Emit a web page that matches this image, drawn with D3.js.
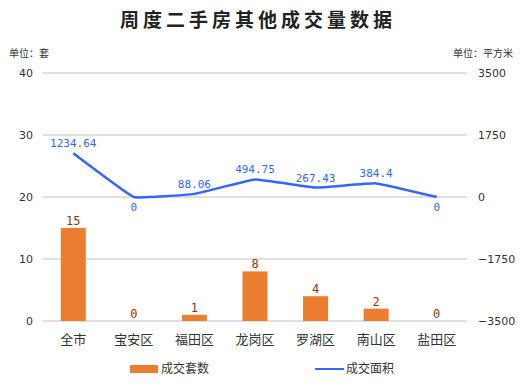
<!DOCTYPE html>
<html>
<head>
<meta charset="utf-8">
<script src="https://cdn.jsdelivr.net/npm/d3@7"></script>
<style>
  body { margin: 0; background: #fff; }
  svg { display: block; font-family: "Noto Sans CJK SC", "DejaVu Sans", sans-serif; }
</style>
</head>
<body>
<svg id="chart" width="522" height="384"></svg>
<script>
// data
var categories = ['全市', '宝安区', '福田区', '龙岗区', '罗湖区', '南山区', '盐田区'];
var dealCount = [15, 0, 1, 8, 4, 2, 0];
var dealArea = [1234.64, 0, 88.06, 494.75, 267.43, 384.4, 0];
var leftTicks = [0, 10, 20, 30, 40];
var rightTicks = [-3500, -1750, 0, 1750, 3500];

var svg = d3.select('#chart'),
    margin = {top: 73, right: 55, bottom: 63, left: 43},
    width = +svg.attr('width') - margin.left - margin.right,
    height = +svg.attr('height') - margin.top - margin.bottom,
    g = svg.append('g').attr('transform', 'translate(' + margin.left + ',' + margin.top + ')');

var x = d3.scaleBand().domain(categories).range([0, width]);
var y = d3.scaleLinear().domain([0, 40]).range([height, 0]);
var y2 = d3.scaleLinear().domain([-3500, 3500]).range([height, 0]);

// title
svg.append('text')
  .attr('x', 258).attr('y', 27)
  .attr('text-anchor', 'middle')
  .attr('font-size', 19).attr('font-weight', 'bold')
  .attr('letter-spacing', 4)
  .attr('fill', '#222')
  .text('周度二手房其他成交量数据');

svg.append('text').attr('x', 9).attr('y', 57)
  .attr('font-size', 10).attr('fill', '#333').text('单位：套');
svg.append('text').attr('x', 513).attr('y', 57).attr('text-anchor', 'end')
  .attr('font-size', 10).attr('fill', '#333').text('单位：平方米');

// grid
g.selectAll('line.grid')
  .data(leftTicks)
  .enter().append('line')
    .attr('class', 'grid')
    .attr('x1', 0).attr('x2', width)
    .attr('y1', function(d) { return y(d); })
    .attr('y2', function(d) { return y(d); })
    .attr('stroke', '#c0c0c0').attr('stroke-width', 1);

// left axis
var leftAxis = g.append('g')
  .call(d3.axisLeft(y).tickValues(leftTicks).tickSize(0).tickPadding(10));
leftAxis.select('.domain').remove();
leftAxis.selectAll('text').attr('font-size', 11).attr('fill', '#333')
  .attr('font-family', 'DejaVu Sans, sans-serif');

// right axis
var rightAxis = g.append('g')
  .attr('transform', 'translate(' + width + ',0)')
  .call(d3.axisRight(y2).tickValues(rightTicks).tickSize(0).tickPadding(11).tickFormat(d3.format('d')));
rightAxis.select('.domain').remove();
rightAxis.selectAll('text').attr('font-size', 11).attr('fill', '#333')
  .attr('font-family', 'DejaVu Sans, sans-serif');

// x labels
g.selectAll('text.xlab')
  .data(categories)
  .enter().append('text')
    .attr('class', 'xlab')
    .attr('x', function(d) { return x(d) + x.bandwidth() / 2; })
    .attr('y', height + 23)
    .attr('text-anchor', 'middle')
    .attr('font-size', 13).attr('fill', '#333')
    .text(function(d) { return d; });

// bars
var barW = 25;
g.selectAll('rect.bar')
  .data(dealCount)
  .enter().append('rect')
    .attr('class', 'bar')
    .attr('x', function(d, i) { return x(categories[i]) + x.bandwidth() / 2 - barW / 2; })
    .attr('y', function(d) { return y(d); })
    .attr('width', barW)
    .attr('height', function(d) { return height - y(d); })
    .attr('fill', '#ED7D31');

g.selectAll('text.barlab')
  .data(dealCount)
  .enter().append('text')
    .attr('class', 'barlab')
    .attr('x', function(d, i) { return x(categories[i]) + x.bandwidth() / 2; })
    .attr('y', function(d) { return y(d) - 3; })
    .attr('text-anchor', 'middle')
    .attr('font-size', 12).attr('fill', '#993300')
    .attr('font-family', 'DejaVu Sans Mono, monospace')
    .text(function(d) { return d; });

// line
var line = d3.line()
  .x(function(d, i) { return x(categories[i]) + x.bandwidth() / 2; })
  .y(function(d) { return y2(d); })
  .curve(d3.curveCardinal.tension(0.75));

g.append('path')
  .datum(dealArea)
  .attr('d', line)
  .attr('fill', 'none')
  .attr('stroke', '#3366ff')
  .attr('stroke-width', 2.5);

g.selectAll('text.linelab')
  .data(dealArea)
  .enter().append('text')
    .attr('class', 'linelab')
    .attr('x', function(d, i) { return x(categories[i]) + x.bandwidth() / 2; })
    .attr('y', function(d) { return d === 0 ? y2(d) + 14 : y2(d) - 6; })
    .attr('text-anchor', 'middle')
    .attr('font-size', 11).attr('fill', '#3366ff')
    .attr('font-family', 'DejaVu Sans Mono, monospace')
    .text(function(d) { return d; });

// legend
var legend = svg.append('g');
legend.append('rect').attr('x', 130).attr('y', 365).attr('width', 28).attr('height', 8).attr('fill', '#ED7D31');
legend.append('text').attr('x', 161).attr('y', 373).attr('font-size', 12).attr('fill', '#333').text('成交套数');
legend.append('line').attr('x1', 315).attr('x2', 344).attr('y1', 369).attr('y2', 369)
  .attr('stroke', '#3366ff').attr('stroke-width', 2);
legend.append('text').attr('x', 346).attr('y', 373).attr('font-size', 12).attr('fill', '#333').text('成交面积');
</script>
</body>
</html>
